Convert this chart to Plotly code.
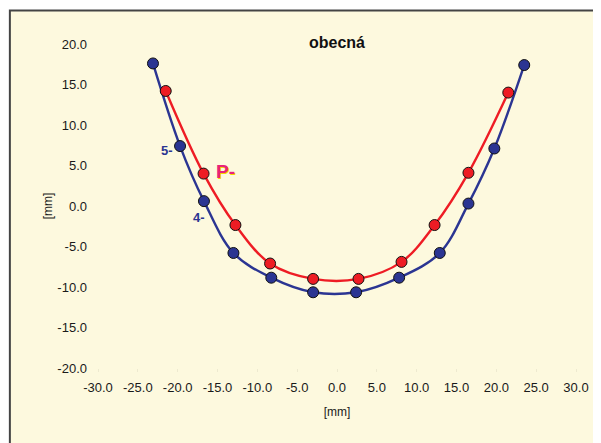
import plotly.graph_objects as go

blue_x = [-23.1, -19.7, -16.7, -13.0, -8.25, -3.0, 2.4, 7.8, 12.9, 16.5, 19.75, 23.5]
blue_y = [17.6, 7.4, 0.6, -5.8, -8.85, -10.65, -10.65, -8.85, -5.8, 0.3, 7.1, 17.4]
red_x = [-21.5, -16.75, -12.75, -8.4, -3.0, 2.7, 8.1, 12.25, 16.5, 21.5]
red_y = [14.2, 4.0, -2.35, -7.1, -9.0, -9.0, -6.9, -2.35, 4.1, 14.0]

x_ticks = [-30, -25, -20, -15, -10, -5, 0, 5, 10, 15, 20, 25, 30]
y_ticks = [-20, -15, -10, -5, 0, 5, 10, 15, 20]

BLUE = "#2B3592"
RED = "#EE1C24"
BG = "#FDF9DE"
FONT = "Liberation Sans, Arial, sans-serif"

OFF = 8  # page body margin
W, H = 601 - OFF, 443 - OFF
L, R, T, B = 98 - OFF, 23, 44 - OFF, 75
pw, ph = W - L - R, H - T - B

def px2paper_x(px):
    return (px - OFF - L) / pw

def px2paper_y(py):
    return (H - B - (py - OFF)) / ph

fig = go.Figure()
fig.add_trace(go.Scatter(x=blue_x, y=blue_y, mode="lines+markers",
                         line=dict(color=BLUE, width=2.4, shape="spline", smoothing=1),
                         marker=dict(size=11, color=BLUE, line=dict(color="#111111", width=1)),
                         showlegend=False))
fig.add_trace(go.Scatter(x=red_x, y=red_y, mode="lines+markers",
                         line=dict(color=RED, width=2.4, shape="spline", smoothing=1),
                         marker=dict(size=11, color=RED, line=dict(color="#111111", width=1)),
                         showlegend=False))

fig.add_shape(type="rect", xref="paper", yref="paper", layer="below",
              x0=px2paper_x(9.5), x1=px2paper_x(640), y0=px2paper_y(480), y1=px2paper_y(10.5),
              fillcolor=BG, line=dict(color="#444444", width=2))

fig.add_annotation(x=px2paper_x(338.5), y=px2paper_y(32), xref="paper", yref="paper",
                   text="<b>obecná</b>", showarrow=False,
                   font=dict(family=FONT, size=16, color="#111111"))
fig.add_annotation(x=-21.4, y=6.9, text="<b>5-</b>", showarrow=False,
                   font=dict(family=FONT, size=13, color=BLUE))
fig.add_annotation(x=-17.3, y=-1.45, text="<b>4-</b>", showarrow=False,
                   font=dict(family=FONT, size=13, color=BLUE))
fig.add_annotation(x=-14.0 + 0.1, y=4.2 - 0.1, text="<b>P-</b>", showarrow=False,
                   font=dict(family=FONT, size=19, color="#F5D800"))
fig.add_annotation(x=-14.0, y=4.2, text="<b>P-</b>", showarrow=False,
                   font=dict(family=FONT, size=19, color="#E8237A"))

fig.update_layout(
    width=W, height=H,
    margin=dict(l=L, r=R, t=T, b=B),
    paper_bgcolor="white",
    plot_bgcolor="#FEFBE3",
    font=dict(family=FONT, size=13, color="#1A1A1A"),
)
fig.update_xaxes(range=[-30, 30], tickvals=x_ticks, ticktext=[f"{v:.1f}" for v in x_ticks],
                 showgrid=False, zeroline=False, showline=False,
                 ticks="outside", ticklen=3, tickcolor="#EEEAD0", ticklabelstandoff=4,
                 title=dict(text="[mm]", font=dict(size=12), standoff=14))
fig.update_yaxes(range=[-20, 20], tickvals=y_ticks, ticktext=[f"{v:.1f}" for v in y_ticks],
                 showgrid=False, zeroline=False, showline=False,
                 ticks="", ticklabelstandoff=10,
                 title=dict(text="[mm]", font=dict(size=12), standoff=2))

fig.write_html("out.html")
